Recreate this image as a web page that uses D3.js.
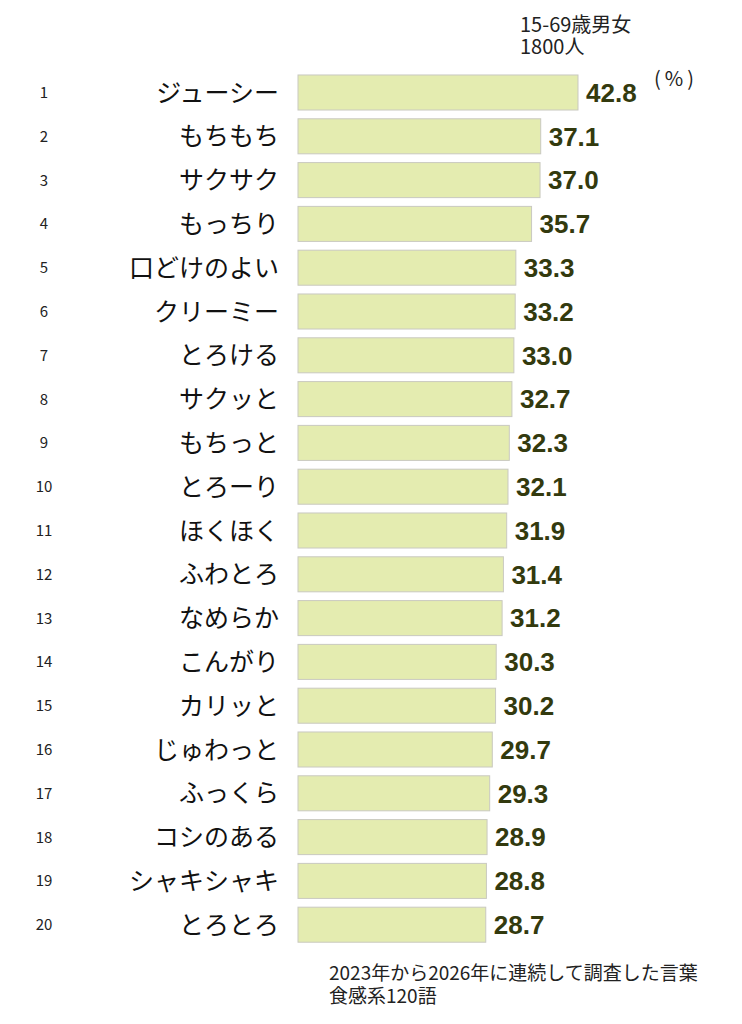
<!DOCTYPE html>
<html>
<head>
<meta charset="utf-8">
<script src="https://cdn.jsdelivr.net/npm/d3@7"></script>
<style>
  body { margin: 0; background: #fff; }
  svg text { font-family: "Noto Sans CJK JP", "Noto Sans", sans-serif; }
</style>
</head>
<body>
<div id="chart"></div>
<script>
// data
var ranks = ["1","2","3","4","5","6","7","8","9","10","11","12","13","14","15","16","17","18","19","20"];
var words = ["ジューシー","もちもち","サクサク","もっちり","口どけのよい","クリーミー","とろける","サクッと","もちっと","とろーり",
             "ほくほく","ふわとろ","なめらか","こんがり","カリッと","じゅわっと","ふっくら","コシのある","シャキシャキ","とろとろ"];
var values = [42.8,37.1,37.0,35.7,33.3,33.2,33.0,32.7,32.3,32.1,31.9,31.4,31.2,30.3,30.2,29.7,29.3,28.9,28.8,28.7];
var noteTop = ["15-69歳男女", "1800人"];
var noteBottom = ["2023年から2026年に連続して調査した言葉", "食感系120語"];

var width = 742, height = 1024;

var svg = d3.select("#chart")
  .append("svg")
    .attr("width", width)
    .attr("height", height);

// scales
var x = d3.scaleLinear()
  .domain([0, 42.8])
  .range([298, 578]);

var y = d3.scaleBand()
  .domain(ranks)
  .range([70.6, 946.6])
  .paddingInner(0.2)
  .paddingOuter(0.1);

var rows = svg.append("g")
  .selectAll("g")
  .data(values)
  .enter()
  .append("g");

// bars
rows.append("rect")
  .attr("x", x(0))
  .attr("y", function (d, i) { return y(ranks[i]); })
  .attr("width", function (d) { return x(d) - x(0); })
  .attr("height", y.bandwidth())
  .style("fill", "#e4ecb0")
  .style("stroke", "#c9c9c0")
  .style("stroke-width", 1);

// value labels
rows.append("text")
  .attr("x", function (d) { return x(d) + 8; })
  .attr("y", function (d, i) { return y(ranks[i]) + y.bandwidth() / 2; })
  .attr("dy", "0.36em")
  .style("font-family", "Arial, 'Liberation Sans', sans-serif")
  .style("font-weight", "bold")
  .style("font-size", "26px")
  .style("fill", "#333a0e")
  .text(function (d) { return d.toFixed(1); });

// words
rows.append("text")
  .attr("x", 279)
  .attr("y", function (d, i) { return y(ranks[i]) + y.bandwidth() / 2; })
  .attr("dy", "0.36em")
  .attr("text-anchor", "end")
  .style("font-size", "25px")
  .style("fill", "#111")
  .text(function (d, i) { return words[i]; });

// rank numbers
rows.append("text")
  .attr("x", 44)
  .attr("y", function (d, i) { return y(ranks[i]) + y.bandwidth() / 2; })
  .attr("dy", "0.36em")
  .attr("text-anchor", "middle")
  .style("font-size", "15px")
  .style("fill", "#222")
  .text(function (d, i) { return ranks[i]; });

// notes, two lines each in one text element
function note(lines, x0, y0, size, gap) {
  svg.append("text")
      .attr("x", x0)
      .attr("y", y0)
      .style("font-size", size + "px")
      .style("fill", "#222")
    .selectAll("tspan")
    .data(lines)
    .enter()
    .append("tspan")
      .attr("x", x0)
      .attr("dy", function (d, i) { return i === 0 ? 0 : gap; })
      .text(function (d) { return d; });
}
note(noteTop, 520, 32, 20, 22);
note(noteBottom, 329, 980, 19, 23);

svg.append("text")
  .attr("x", 654)
  .attr("y", 86)
  .style("font-size", "20px")
  .style("letter-spacing", "4px")
  .style("fill", "#222")
  .text("(%)");
</script>
</body>
</html>
